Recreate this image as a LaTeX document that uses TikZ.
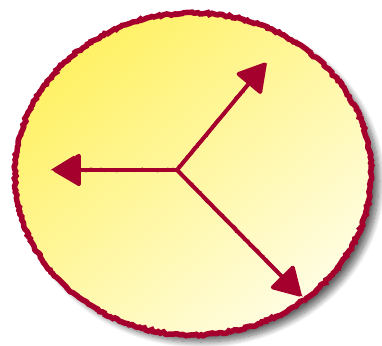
\documentclass[tikz,border=0pt]{standalone}
\usetikzlibrary{arrows.meta, shadows.blur, decorations.pathmorphing}
\definecolor{wine}{RGB}{165,0,45}
\definecolor{lemon}{RGB}{255,241,100}
\definecolor{cream}{RGB}{255,253,226}
\tikzset{
  rough/.style={decorate, decoration={random steps, segment length=2.5pt, amplitude=1.1pt}},
  spoke/.style={wine, line width=4pt, -{Triangle[length=30pt, width=34pt, round]}},
}
\begin{document}
\begin{tikzpicture}[x=1pt, y=-1pt]
    \useasboundingbox (0,0) rectangle (382,345);
    \coordinate (mid) at (193,174);
    \coordinate (hub) at (177,170);
    \coordinate (west) at (53,170);
    \coordinate (northeast) at (266,63);
    \coordinate (southeast) at (301,296);

    % disc with soft shadow
    \fill[blur shadow={shadow xshift=8pt, shadow yshift=-7pt, shadow blur steps=12,
                       shadow blur radius=6pt, shadow opacity=60},
          top color=lemon, bottom color=cream, shading angle=40]
        (mid) ellipse [x radius=178, y radius=161];

    % sketchy rim
    \foreach \w/\s in {5.5pt/3, 2.5pt/7, 1.5pt/11} {
        \pgfmathsetseed{\s}
        \draw[wine, line width=\w, rough] (mid) ellipse [x radius=178, y radius=161];
    }

    % the three spokes
    \draw[spoke] (hub) -- (west);
    \draw[spoke] (hub) -- (northeast);
    \draw[spoke] (hub) -- (southeast);

    % rough texture on the shafts
    \pgfmathsetseed{5}
    \draw[wine, line width=2.5pt, rough, shorten >=25pt] (hub) -- (west);
    \draw[wine, line width=2.5pt, rough, shorten >=25pt] (hub) -- (northeast);
    \draw[wine, line width=2.5pt, rough, shorten >=25pt] (hub) -- (southeast);
\end{tikzpicture}
\end{document}
